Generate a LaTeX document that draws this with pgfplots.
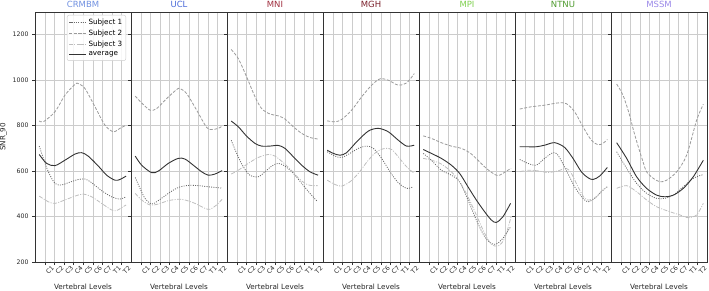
\documentclass[border=0pt]{standalone}
\usepackage{fontspec}
\setmainfont{DejaVu Sans}
\usepackage{pgfplots}
\pgfplotsset{compat=1.18}
\usepgfplotslibrary{groupplots}
\usetikzlibrary{calc}

\definecolor{tCRMBM}{HTML}{7090E0}
\definecolor{tUCL}{HTML}{4A6AD8}
\definecolor{tMNI}{HTML}{A03040}
\definecolor{tMGH}{HTML}{7A1F2A}
\definecolor{tMPI}{HTML}{80D050}
\definecolor{tNTNU}{HTML}{4E9A2E}
\definecolor{tMSSM}{HTML}{9A88E8}
\definecolor{gridc}{HTML}{CCCCCC}
\definecolor{axc}{HTML}{333333}
\definecolor{textc}{HTML}{262626}
\definecolor{cS1}{HTML}{6A6A6A}
\definecolor{cS2}{HTML}{9A9A9A}
\definecolor{cS3}{HTML}{BDBDBD}
\definecolor{cAvg}{HTML}{333333}

\pgfplotsset{
  every axis title shift=0pt,
  panel/.style={
    scale only axis, width=96pt, height=250pt,
    xmin=-1.04, xmax=8.96, ymin=200, ymax=1300,
    xtick={0,...,8}, xticklabels={C1,C2,C3,C4,C5,C6,C7,T1,T2},
    ytick={200,400,...,1200},
    grid=major, grid style={color=gridc, line width=0.6pt},
    axis line style={color=axc, line width=0.7pt},
    tick align=outside, tick style={color=axc, line width=0.6pt}, major tick length=3pt,
    xtick pos=bottom, ytick pos=left,
    tick label style={font=\fontsize{6.2}{7}\selectfont, color=textc},
    xticklabel style={rotate=45, anchor=center, yshift=-7pt},
    /pgf/number format/assume math mode=true,
    /pgf/number format/1000 sep={},
    xlabel={Vertebral Levels},
    xlabel style={font=\fontsize{7.2}{8}\selectfont, color=textc, at={(axis description cs:0.5,0)}, anchor=base, yshift=-27pt},
    title style={font=\fontsize{8.5}{9}\selectfont, at={(axis description cs:0.5,1)}, anchor=base, yshift=4.5pt},
  },
  s1/.style={color=cS1, line width=0.8pt, dash pattern=on 1pt off 1.3pt, smooth, no markers},
  s2/.style={color=cS2, line width=0.8pt, dash pattern=on 3pt off 1.6pt, smooth, no markers},
  s3/.style={color=cS3, line width=0.8pt, dash pattern=on 4pt off 1.4pt on 1pt off 1.4pt, smooth, no markers},
  av/.style={color=cAvg, line width=0.9pt, solid, smooth, no markers},
}

\begin{document}
\begin{tikzpicture}
\begin{groupplot}[group style={group size=7 by 1, horizontal sep=0pt, yticklabels at=edge left, ylabels at=edge left}, panel]

\nextgroupplot[title={\color{tCRMBM}CRMBM}, ylabel={SNR\_90},
  ylabel style={font=\fontsize{7.2}{8}\selectfont, color=textc, at={(axis description cs:-0.328,0.5)}, anchor=center},
  legend style={at={(0.64,0.988)}, anchor=north, font=\fontsize{7.2}{8.5}\selectfont, draw=gray!40, rounded corners=2pt, fill=white, fill opacity=0.85, text opacity=1, inner sep=1.5pt, row sep=0pt},
  legend cell align=left]
\addplot[s1] coordinates {(-0.6,710) (-0.17,656) (0.35,597) (1.04,546) (1.74,539) (2.43,549) (3.47,563) (4.17,565) (4.86,549) (5.9,514) (6.94,487) (7.8,477) (8.45,487)};
\addplot[s2] coordinates {(-0.6,821) (-0.17,817) (1.04,861) (2.08,934) (3.13,982) (3.47,985) (4.17,963) (5.21,883) (6.25,802) (7.12,773) (7.8,788) (8.45,802)};
\addplot[s3] coordinates {(-0.6,490) (0.35,465) (1.04,458) (2.08,473) (3.13,490) (4.0,499) (4.86,487) (5.9,458) (6.94,429) (7.45,426) (7.98,439) (8.45,451)};
\addplot[av] coordinates {(-0.6,673) (0.17,634) (1.04,624) (2.08,648) (3.13,675) (3.82,681) (4.5,666) (5.56,622) (6.42,582) (7.29,560) (7.8,563) (8.45,578)};
\legend{Subject 1, Subject 2, Subject 3, average}

\nextgroupplot[title={\color{tUCL}UCL}]
\addplot[s1] coordinates {(-0.6,572) (-0.1,524) (0.42,480) (1.11,455) (1.8,470) (2.85,502) (3.89,528) (4.93,537) (5.97,536) (7.01,531) (8.45,525)};
\addplot[s2] coordinates {(-0.6,930) (0.07,900) (0.94,868) (1.63,875) (2.67,919) (3.72,959) (4.06,963) (4.76,941) (5.8,868) (6.84,792) (7.36,783) (8.06,788) (8.45,798)};
\addplot[s3] coordinates {(-0.6,502) (0.07,473) (0.94,451) (1.8,455) (2.85,470) (3.89,476) (4.58,473) (5.62,458) (6.67,436) (7.19,432) (7.88,451) (8.45,476)};
\addplot[av] coordinates {(-0.6,666) (0.07,626) (1.11,593) (1.8,600) (2.85,634) (3.89,656) (4.58,653) (5.45,626) (6.32,597) (7.01,582) (7.7,587) (8.45,602)};

\nextgroupplot[title={\color{tMNI}MNI}]
\addplot[s1] coordinates {(-0.6,736) (-0.03,678) (0.66,619) (1.35,582) (2.22,575) (2.92,597) (3.61,622) (4.3,634) (5.0,622) (5.87,590) (6.74,546) (7.6,502) (8.4,465)};
\addplot[s2] coordinates {(-0.6,1135) (0.14,1095) (1.0,1015) (1.875,927) (2.57,875) (3.44,851) (4.3,843) (5.0,829) (5.87,795) (6.74,766) (7.6,748) (8.45,741)};
\addplot[s3] coordinates {(-0.6,587) (0.14,604) (1.18,634) (2.22,660) (3.26,673) (3.96,666) (4.83,637) (5.69,602) (6.56,563) (7.43,539) (8.4,536)};
\addplot[av] coordinates {(-0.6,820) (0.14,795) (1.0,754) (1.875,722) (2.57,710) (3.44,710) (4.3,713) (5.0,700) (5.87,663) (6.74,626) (7.6,597) (8.45,582)};

\nextgroupplot[title={\color{tMGH}MGH}]
\addplot[s1] coordinates {(-0.6,685) (0.21,666) (0.9,660) (1.77,678) (2.64,700) (3.5,710) (4.2,700) (5.07,656) (5.94,597) (6.8,549) (7.67,524) (8.37,531)};
\addplot[s2] coordinates {(-0.6,821) (0.21,817) (0.9,827) (1.94,868) (2.99,927) (4.03,978) (4.9,1006) (5.76,1000) (6.8,978) (7.67,988) (8.47,1029)};
\addplot[s3] coordinates {(-0.6,560) (0.21,541) (0.9,534) (1.77,553) (2.64,590) (3.68,648) (4.55,685) (5.42,700) (6.11,695) (6.8,663) (7.67,619) (8.47,590)};
\addplot[av] coordinates {(-0.6,692) (0.03,678) (0.73,670) (1.42,681) (2.47,729) (3.68,776) (4.72,788) (5.76,773) (6.8,736) (7.67,710) (8.47,714)};

\nextgroupplot[title={\color{tMPI}MPI}]
\addplot[s1] coordinates {(-0.6,678) (0.24,648) (1.28,604) (2.33,582) (3.19,553) (4.06,473) (4.93,385) (5.8,311) (6.49,282) (7.01,279) (7.7,304) (8.5,355)};
\addplot[s2] coordinates {(-0.6,755) (0.24,744) (1.28,725) (2.33,710) (3.37,700) (4.24,681) (5.1,648) (5.97,612) (6.67,590) (7.19,580) (7.7,590) (8.23,604) (8.55,612)};
\addplot[s3] coordinates {(-0.6,656) (0.24,648) (1.28,631) (2.33,597) (3.19,553) (4.06,487) (4.93,407) (5.8,326) (6.49,279) (7.19,270) (7.88,304) (8.55,399)};
\addplot[av] coordinates {(-0.6,695) (0.24,678) (1.28,656) (2.33,626) (3.19,590) (4.06,531) (4.93,473) (5.8,421) (6.49,385) (7.01,374) (7.7,399) (8.5,458)};

\nextgroupplot[title={\color{tNTNU}NTNU}]
\addplot[s1] coordinates {(-0.55,651) (0.31,634) (1.18,626) (2.05,656) (2.92,681) (3.44,670) (4.3,604) (5.17,531) (6.04,480) (6.56,465) (7.26,480) (7.95,509) (8.58,531)};
\addplot[s2] coordinates {(-0.55,873) (0.66,883) (2.05,890) (3.44,900) (4.3,897) (5.17,861) (6.04,795) (6.91,736) (7.6,716) (8.13,722) (8.58,739)};
\addplot[s3] coordinates {(-0.55,597) (0.31,604) (1.35,601) (2.4,594) (3.44,601) (4.3,612) (4.83,590) (5.52,531) (6.22,480) (6.74,473) (7.43,487) (8.13,519) (8.58,531)};
\addplot[av] coordinates {(-0.55,707) (0.31,707) (1.18,707) (2.05,714) (3.09,725) (4.13,704) (5.0,656) (5.87,597) (6.56,571) (7.08,563) (7.78,578) (8.58,616)};

\nextgroupplot[title={\color{tMSSM}MSSM}]
\addplot[s1] coordinates {(-0.45,685) (0.59,612) (1.63,546) (2.67,502) (3.72,480) (4.58,480) (5.45,494) (6.49,531) (7.53,568) (8.58,585)};
\addplot[s2] coordinates {(-0.45,983) (0.2,935) (0.8,860) (1.3,780) (1.75,714) (2.3,640) (2.67,597) (3.37,568) (4.06,553) (4.76,560) (5.8,597) (6.84,670) (7.88,824) (8.58,894)};
\addplot[s3] coordinates {(-0.45,524) (0.59,536) (1.63,509) (2.67,473) (3.72,443) (5.1,421) (6.15,407) (7.01,395) (7.88,407) (8.58,458)};
\addplot[av] coordinates {(-0.45,725) (0.59,656) (1.63,575) (2.67,524) (3.72,494) (4.58,487) (5.45,494) (6.49,524) (7.53,575) (8.58,648)};
\end{groupplot}
\pgfresetboundingbox
\path[use as bounding box] ($(group c1r1.south west)+(-35pt,-28pt)$) rectangle ($(group c7r1.north east)+(2pt,12pt)$);
\end{tikzpicture}
\end{document}
